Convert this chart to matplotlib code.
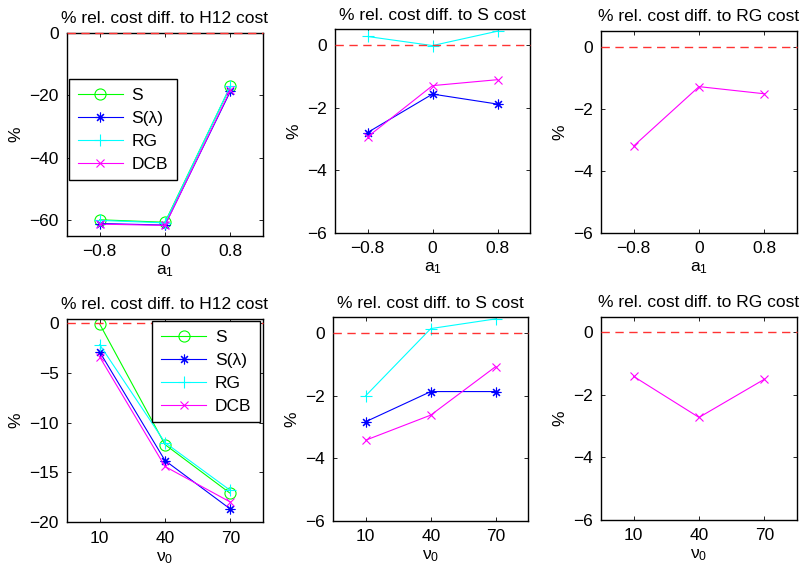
import matplotlib
matplotlib.use("Agg")
import matplotlib.pyplot as plt

plt.rcParams['font.family'] = ['Liberation Sans', 'DejaVu Sans']
plt.rcParams['mathtext.fontset'] = 'custom'
plt.rcParams['mathtext.rm'] = 'Liberation Sans'
plt.rcParams['mathtext.it'] = 'Liberation Sans'
FS = 12.5
plt.rcParams['font.size'] = FS

# x values
a1 = [-0.8, 0, 0.8]
nu0 = [10, 40, 70]

# top row: a_1 experiments
h12_top = {
    'S': [-59.8, -60.6, -17.1],
    'S(λ)': [-61.0, -61.5, -18.7],
    'RG': [-60.0, -60.8, -17.0],
    'DCB': [-61.2, -61.6, -18.3],
}
s_top = {
    'S(λ)': [-2.80, -1.57, -1.89],
    'RG': [0.27, -0.02, 0.44],
    'DCB': [-2.94, -1.30, -1.11],
}
rg_top = {'DCB': [-3.20, -1.29, -1.52]}

# bottom row: nu_0 experiments
h12_bot = {
    'S': [-0.1, -12.2, -17.1],
    'S(λ)': [-2.9, -13.8, -18.67],
    'RG': [-2.17, -12.0, -16.8],
    'DCB': [-3.4, -14.4, -17.97],
}
s_bot = {
    'S(λ)': [-2.83, -1.87, -1.87],
    'RG': [-2.0, 0.14, 0.45],
    'DCB': [-3.42, -2.62, -1.07],
}
rg_bot = {'DCB': [-1.41, -2.72, -1.50]}

styles = {
    'S': dict(color=(0, 1, 0), marker='o', markersize=8, markerfacecolor='none'),
    'S(λ)': dict(color=(0, 0, 1), marker=(8, 2, 0), markersize=7),
    'RG': dict(color=(0, 1, 1), marker='+', markersize=8),
    'DCB': dict(color=(1, 0, 1), marker='x', markersize=6),
}

fig = plt.figure(figsize=(8.04, 5.76), dpi=100)
W, H = 804.0, 576.0


def make_axes(left, right, top, bottom):
    return fig.add_axes([left / W, (H - bottom) / H, (right - left) / W, (bottom - top) / H])


def fmt(v):
    return ('\u2212%g' % -v) if v < 0 else '%g' % v


def draw(ax, x, series, title, xlabel, ylim, yticks, xlim):
    ax.axhline(0, color=(1, 0.2, 0.2), linestyle=(0, (6, 4)), linewidth=1.0, zorder=3, clip_on=False)
    for name, vals in series.items():
        ax.plot(x, vals, linewidth=0.8, markeredgewidth=0.8, label=name, **styles[name])
    ax.set_xlim(xlim)
    ax.set_ylim(ylim)
    ax.set_xticks(x)
    ax.set_xticklabels([fmt(v) for v in x])
    ax.set_yticks(yticks)
    ax.set_yticklabels([fmt(v) for v in yticks])
    ax.set_title(title, fontsize=FS, pad=7)
    ax.set_xlabel(xlabel, fontsize=FS, labelpad=3)
    ax.set_ylabel('%', fontsize=FS, labelpad=4)
    ax.tick_params(direction='in', top=True, right=True, length=3, width=0.6, labelsize=FS, pad=6)
    for s in ax.spines.values():
        s.set_linewidth(1.0)


def add_legend(ax, loc, anchor):
    leg = ax.legend(loc=loc, bbox_to_anchor=anchor, borderaxespad=0, fancybox=False,
                    edgecolor='black', framealpha=1, borderpad=0.5, handlelength=2.6,
                    handletextpad=0.5, labelspacing=0.45, fontsize=FS)
    leg.get_frame().set_linewidth(1.0)


ax1 = make_axes(67, 263, 33, 236)
draw(ax1, a1, h12_top, '% rel. cost diff. to H12 cost', r'$\mathregular{a_1}$',
     (-65, 0), [-60, -40, -20, 0], (-1.2, 1.2))
add_legend(ax1, 'upper left', (0.01, 0.773))

ax2 = make_axes(335, 530, 29.3, 232.7)
draw(ax2, a1, s_top, '% rel. cost diff. to S cost', r'$\mathregular{a_1}$',
     (-6, 0.5), [-6, -4, -2, 0], (-1.2, 1.2))

ax3 = make_axes(601, 797, 31, 233)
draw(ax3, a1, rg_top, '% rel. cost diff. to RG cost', r'$\mathregular{a_1}$',
     (-6, 0.5), [-6, -4, -2, 0], (-1.2, 1.2))

ax4 = make_axes(67, 263, 319, 522.3)
draw(ax4, nu0, h12_bot, '% rel. cost diff. to H12 cost', r'$\mathregular{\nu_0}$',
     (-20, 0.4), [-20, -15, -10, -5, 0], (-5, 85))
add_legend(ax4, 'upper right', (0.985, 0.99))

ax5 = make_axes(333.3, 528.3, 317.3, 521)
draw(ax5, nu0, s_bot, '% rel. cost diff. to S cost', r'$\mathregular{\nu_0}$',
     (-6, 0.5), [-6, -4, -2, 0], (-5, 85))

ax6 = make_axes(601, 797, 316.7, 520)
draw(ax6, nu0, rg_bot, '% rel. cost diff. to RG cost', r'$\mathregular{\nu_0}$',
     (-6, 0.5), [-6, -4, -2, 0], (-5, 85))

fig.savefig('out.png', dpi=100)
